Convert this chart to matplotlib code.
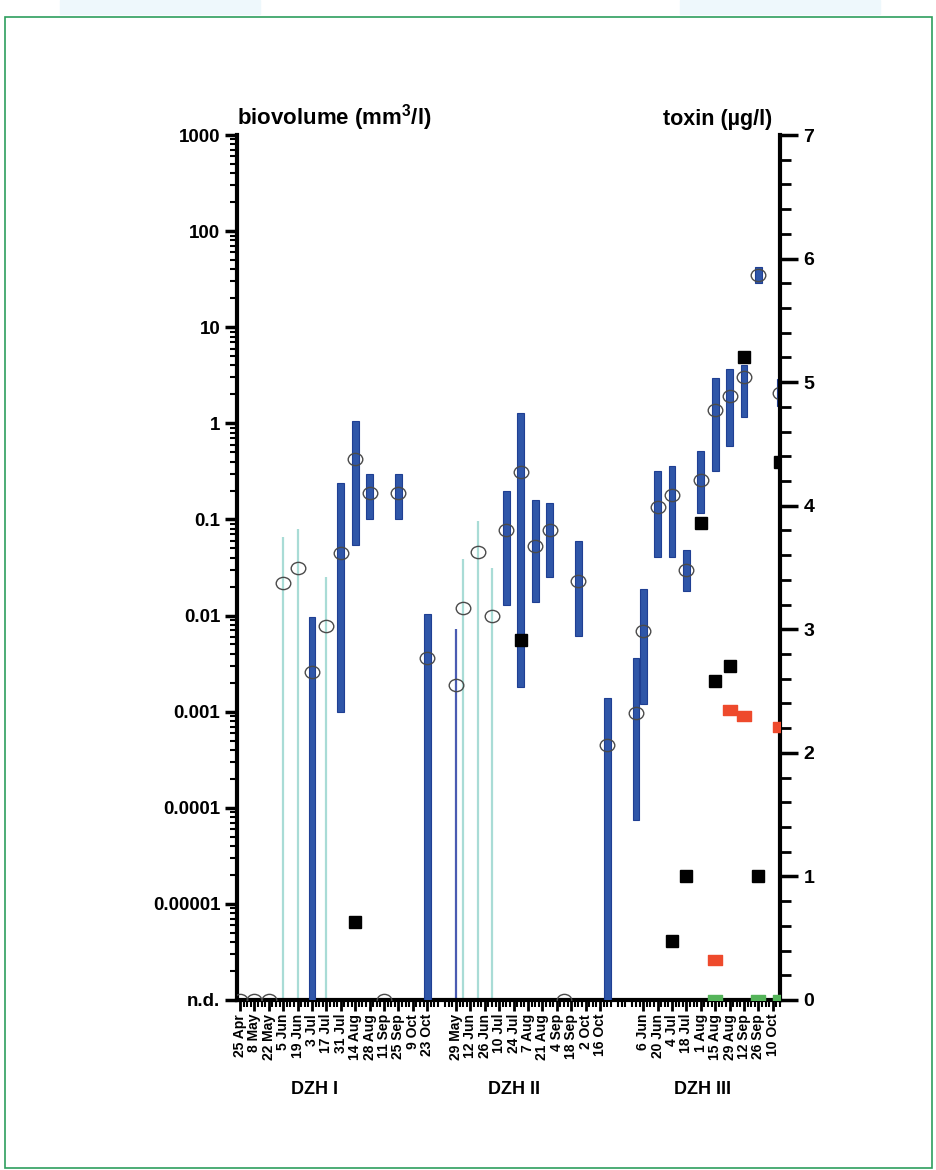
"""Biovolume ranges and toxin concentrations for the DZH I-III sampling campaigns."""

import matplotlib

matplotlib.use("Agg")
import matplotlib.pyplot as plt
import numpy as np
from matplotlib.path import Path
from matplotlib.patches import Rectangle
from matplotlib.ticker import FixedLocator, NullFormatter

plt.rcParams["font.family"] = ["Liberation Sans", "DejaVu Sans"]
plt.rcParams["font.weight"] = "bold"
plt.rcParams["mathtext.fontset"] = "custom"
plt.rcParams["mathtext.rm"] = "Liberation Sans:bold"
plt.rcParams["mathtext.bf"] = "Liberation Sans:bold"

ND = 1e-6  # "n.d." is drawn at the bottom of the log axis

# sampling position, weeks counted from 25 Apr of DZH I
median_week = [0, 2, 4, 6, 8, 10, 12, 14, 16, 18, 20, 22, 26,
               30, 31, 33, 35, 37, 39, 41, 43, 45, 47, 51,
               55, 56, 58, 60, 62, 64, 66, 68, 70, 72, 75]
median_biovolume = [None, None, None, 0.022, 0.031, 0.0026, 0.0078, 0.045, 0.43, 0.19, None, 0.19, 0.0036,
                    0.0019, 0.012, 0.046, 0.0099, 0.078, 0.31, 0.053, 0.078, None, 0.023, 0.00045,
                    0.00097, 0.0069, 0.135, 0.18, 0.030, 0.26, 1.37, 1.92, 3.03, 35.0, 2.07]

range_week = [10, 14, 16, 18, 22, 26,
              37, 39, 41, 43, 47, 51,
              55, 56, 58, 60, 62, 64, 66, 68, 70, 72, 75]
range_low = [None, 0.001, 0.054, 0.10, 0.10, None,
             0.013, 0.0018, 0.014, 0.025, 0.0061, None,
             7.4e-5, 0.0012, 0.041, 0.041, 0.018, 0.117, 0.32, 0.58, 1.16, 28.8, 1.51]
range_high = [0.0096, 0.24, 1.06, 0.30, 0.30, 0.0105,
              0.20, 1.28, 0.16, 0.15, 0.060, 0.0014,
              0.0036, 0.019, 0.32, 0.36, 0.048, 0.52, 2.96, 3.67, 4.0, 42.0, 2.89]

# ranges only bounded from above (light lines) and one thin dark line
upper_week = [6, 8, 12, 31, 33, 35]
upper_high = [0.066, 0.079, 0.025, 0.039, 0.096, 0.031]
thin_week = [30]
thin_high = [0.0072]

# toxin (right axis)
black_week = [16, 39, 60, 62, 64, 66, 68, 70, 72, 75]
black_toxin = [0.63, 2.91, 0.48, 1.0, 3.86, 2.58, 2.70, 5.20, 1.0, 4.35]
red_week = [66, 68, 70, 75]
red_toxin = [0.32, 2.35, 2.30, 2.21]
green_week = [66, 72, 75]
green_toxin = [0.0, 0.0, 0.0]

# x tick labels
label_week = list(range(0, 27, 2)) + list(range(30, 51, 2)) + list(range(56, 75, 2))
label_text = ["25 Apr", "8 May", "22 May", "5 Jun", "19 Jun", "3 Jul", "17 Jul", "31 Jul",
              "14 Aug", "28 Aug", "11 Sep", "25 Sep", "9 Oct", "23 Oct",
              "29 May", "12 Jun", "26 Jun", "10 Jul", "24 Jul", "7 Aug", "21 Aug", "4 Sep",
              "18 Sep", "2 Oct", "16 Oct",
              "6 Jun", "20 Jun", "4 Jul", "18 Jul", "1 Aug", "15 Aug", "29 Aug", "12 Sep",
              "26 Sep", "10 Oct"]
group_names = ["DZH I", "DZH II", "DZH III"]
group_center = [10.4, 38.0, 64.3]

y_tick_values = [1e3, 1e2, 1e1, 1, 0.1, 0.01, 1e-3, 1e-4, 1e-5, ND]
y_tick_labels = ["1000", "100", "10", "1", "0.1", "0.01", "0.001", "0.0001", "0.00001", "n.d."]

BAR_COLOR = "#2f56a8"
BAR_EDGE = "#1f3f93"
UPPER_COLOR = "#a9dcd6"
THIN_COLOR = "#4a5cb2"


def nd(values):
    return np.array([ND if v is None else v for v in values], dtype=float)


ellipse = Path(Path.unit_circle().vertices * [1.0, 0.84], Path.unit_circle().codes)
flat_square = Path([(-1, -0.78), (1, -0.78), (1, 0.78), (-1, 0.78), (-1, -0.78)],
                   [Path.MOVETO, Path.LINETO, Path.LINETO, Path.LINETO, Path.CLOSEPOLY])

fig = plt.figure(figsize=(9.37, 11.7), dpi=100)
ax = fig.add_axes([237 / 937, 1 - 1000 / 1170, 543 / 937, 865 / 1170])

ax.set_yscale("log")
ax.set_ylim(ND, 1e3)
ax.set_xlim(-0.42, 75.0)

ax.vlines(upper_week, ND, upper_high, color=UPPER_COLOR, lw=1.6, zorder=2)
ax.vlines(thin_week, ND, thin_high, color=THIN_COLOR, lw=1.6, zorder=2)
low = nd(range_low)
high = np.array(range_high)
ax.bar(range_week, high - low, bottom=low, width=0.95, color=BAR_COLOR,
       edgecolor=BAR_EDGE, linewidth=0.8, zorder=3)
ax.plot(median_week, nd(median_biovolume), ls="none", marker=ellipse, ms=10.5,
        mfc="none", mec="#4a4a4a", mew=1.0, zorder=4)

ax2 = ax.twinx()
ax2.set_ylim(0, 7)
ax2.plot(black_week, black_toxin, ls="none", marker="s", ms=8.5, color="black", zorder=5)
ax2.plot(red_week, red_toxin, ls="none", marker=flat_square, ms=9.5, color="#ee4a2c", zorder=5)
ax2.plot(green_week, green_toxin, ls="none", marker=flat_square, ms=9.5, color="#55b45a", zorder=5)

for a in (ax, ax2):
    for side in ("top", "left", "right", "bottom"):
        a.spines[side].set_visible(False)
ax.spines["left"].set_visible(True)
ax.spines["bottom"].set_visible(True)
ax2.spines["right"].set_visible(True)
for sp in (ax.spines["left"], ax.spines["bottom"], ax2.spines["right"]):
    sp.set_linewidth(3)

ax.yaxis.set_major_locator(FixedLocator(y_tick_values))
ax.set_yticklabels(y_tick_labels, fontsize=13.5, fontweight="bold")
minor_y = [m * 10.0 ** e for e in range(-6, 3) for m in range(2, 10)]
ax.yaxis.set_minor_locator(FixedLocator(minor_y))
ax.yaxis.set_minor_formatter(NullFormatter())
ax.tick_params(axis="y", which="major", length=9, width=2.5, pad=3)
ax.tick_params(axis="y", which="minor", length=5, width=1.5)

ax.set_xticks(label_week)
ax.set_xticklabels(label_text, rotation=90, fontsize=10, fontweight="bold")
ax.xaxis.set_minor_locator(FixedLocator([w * 0.5 for w in range(0, 151) if w % 4 != 0]))
ax.tick_params(axis="x", which="major", length=8, width=2, pad=2)
ax.tick_params(axis="x", which="minor", length=5, width=1.5)

ax2.set_yticks(range(0, 8))
ax2.set_yticklabels([str(v) for v in range(0, 8)], fontsize=14, fontweight="bold")
ax2.yaxis.set_minor_locator(FixedLocator(np.arange(0, 7.01, 0.2)))
ax2.tick_params(axis="y", which="major", length=13, width=2.5, pad=4)
ax2.tick_params(axis="y", which="minor", length=8, width=2)

for name, xc in zip(group_names, group_center):
    ax.text(xc, -0.104, name, transform=ax.get_xaxis_transform(), ha="center",
            va="center", fontsize=13, fontweight="bold")

ax.text(0.0, 1.0116, r"biovolume (mm$^{\mathbf{3}}$/l)", transform=ax.transAxes, ha="left",
        va="baseline", fontsize=16, fontweight="bold")
ax.text(0.985, 1.0116, "toxin (\u00b5g/l)", transform=ax.transAxes, ha="right",
        va="baseline", fontsize=15.5, fontweight="bold")

# page frame and faint header shapes
fig.patches.append(Rectangle((60 / 937, 1 - 14 / 1170), 200 / 937, 14 / 1170,
                             transform=fig.transFigure, color="#eef8fc", zorder=0))
fig.patches.append(Rectangle((680 / 937, 1 - 14 / 1170), 200 / 937, 14 / 1170,
                             transform=fig.transFigure, color="#eef8fc", zorder=0))
fig.patches.append(Rectangle((5 / 937, 2 / 1170), 927 / 937, 1151 / 1170,
                             transform=fig.transFigure, fill=False, edgecolor="#2e9e5e",
                             linewidth=1.2))

fig.savefig("out.png", dpi=100)
